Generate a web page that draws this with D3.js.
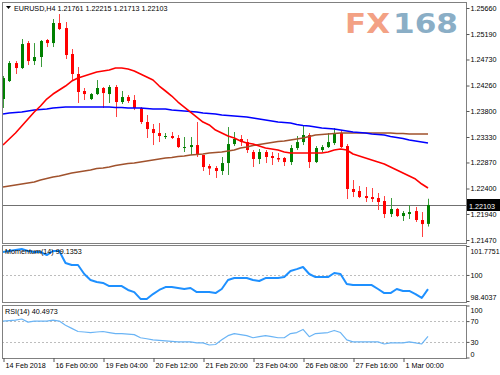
<!DOCTYPE html>
<html lang="en">
<head>
<meta charset="UTF-8">
<title>EURUSD H4</title>
<script src="https://d3js.org/d3.v7.min.js"></script>
<style>
  body { margin: 0; background: #fff; }
  svg { display: block; font-family: "Liberation Sans", Arial, sans-serif; }
</style>
</head>
<body>
<div id="chart"></div>
<script>
// H4 candles, oldest first
const opens  = [1.24016,1.24341,1.24666,1.24576,1.25027,1.24702,1.24775,1.25082,1.25027,1.25389,1.25298,1.24829,1.24468,1.24161,1.24016,1.24106,1.24215,1.24106,1.24233,1.23962,1.24052,1.23998,1.23854,1.23601,1.23474,1.23402,1.23339,1.23348,1.23312,1.23131,1.23149,1.23185,1.23005,1.22806,1.22770,1.22716,1.22860,1.23203,1.23294,1.23239,1.23059,1.22933,1.23059,1.22987,1.22951,1.22951,1.22878,1.23131,1.23239,1.23366,1.22878,1.23095,1.23149,1.23221,1.23402,1.23167,1.22391,1.22355,1.22264,1.22246,1.22228,1.22174,1.21939,1.22030,1.21903,1.21939,1.21993,1.21831,1.21761];
const highs  = [1.24432,1.24702,1.24702,1.25100,1.25064,1.25027,1.25082,1.25100,1.25461,1.25551,1.25407,1.24919,1.24594,1.24215,1.24124,1.24359,1.24233,1.24269,1.24269,1.24161,1.24088,1.24088,1.23872,1.23727,1.23565,1.23583,1.23402,1.23420,1.23366,1.23330,1.23330,1.23601,1.23005,1.22842,1.22806,1.22969,1.23510,1.23420,1.23366,1.23294,1.23095,1.23113,1.23095,1.23059,1.23041,1.22969,1.23185,1.23348,1.23528,1.23402,1.23167,1.23185,1.23402,1.23492,1.23456,1.23203,1.22553,1.22445,1.22427,1.22409,1.22319,1.22264,1.22228,1.22048,1.21993,1.22102,1.22066,1.21975,1.22215];
const lows   = [1.23854,1.24323,1.24468,1.24558,1.24630,1.24630,1.24594,1.24955,1.24955,1.25262,1.24739,1.24359,1.23944,1.23998,1.23998,1.24088,1.23854,1.23944,1.23691,1.23926,1.23944,1.23817,1.23565,1.23312,1.23185,1.23239,1.23294,1.23294,1.23131,1.23059,1.23005,1.22969,1.22716,1.22644,1.22590,1.22644,1.22644,1.23167,1.23167,1.23041,1.22788,1.22842,1.22860,1.22824,1.22878,1.22806,1.22824,1.23095,1.23185,1.22770,1.22860,1.23059,1.23131,1.23185,1.23131,1.22210,1.22246,1.22228,1.22156,1.22156,1.22012,1.21867,1.21885,1.21885,1.21813,1.21849,1.21795,1.21524,1.21713];
const closes = [1.24395,1.24666,1.24576,1.25009,1.24702,1.24775,1.25064,1.25027,1.25389,1.25280,1.24811,1.24468,1.24143,1.24106,1.24106,1.24215,1.24124,1.24233,1.23962,1.24052,1.23980,1.23854,1.23601,1.23474,1.23402,1.23348,1.23348,1.23312,1.23149,1.23149,1.23185,1.23005,1.22788,1.22761,1.22716,1.22860,1.23203,1.23294,1.23239,1.23095,1.22933,1.23059,1.22969,1.22951,1.22924,1.22878,1.23131,1.23239,1.23366,1.22878,1.23131,1.23149,1.23239,1.23402,1.23149,1.22391,1.22337,1.22246,1.22228,1.22210,1.22156,1.21939,1.22030,1.21903,1.21957,1.21975,1.21831,1.21758,1.22103];

// moving averages
const maRed = [1.23185,1.23294,1.23402,1.23528,1.23655,1.23781,1.23890,1.24016,1.24106,1.24179,1.24251,1.24341,1.24395,1.24431,1.24468,1.24504,1.24522,1.24540,1.24576,1.24576,1.24558,1.24522,1.24468,1.24413,1.24359,1.24251,1.24161,1.24070,1.23962,1.23872,1.23781,1.23691,1.23601,1.23547,1.23456,1.23402,1.23348,1.23312,1.23258,1.23221,1.23203,1.23167,1.23131,1.23113,1.23095,1.23059,1.23041,1.23041,1.23041,1.23041,1.23041,1.23041,1.23059,1.23095,1.23113,1.23095,1.23023,1.22987,1.22951,1.22914,1.22878,1.22842,1.22788,1.22734,1.22680,1.22625,1.22571,1.22481,1.22409];
const maBlue = [1.23745,1.23763,1.23772,1.23781,1.23799,1.23817,1.23826,1.23836,1.23854,1.23863,1.23872,1.23872,1.23872,1.23872,1.23872,1.23872,1.23872,1.23872,1.23863,1.23863,1.23854,1.23854,1.23854,1.23845,1.23836,1.23836,1.23836,1.23817,1.23808,1.23799,1.23790,1.23781,1.23763,1.23754,1.23745,1.23727,1.23718,1.23709,1.23700,1.23691,1.23673,1.23655,1.23637,1.23619,1.23601,1.23592,1.23583,1.23556,1.23538,1.23528,1.23510,1.23492,1.23483,1.23474,1.23456,1.23438,1.23420,1.23411,1.23402,1.23384,1.23375,1.23366,1.23339,1.23321,1.23303,1.23276,1.23258,1.23240,1.23221];
const maBrown = [1.22427,1.22445,1.22463,1.22481,1.22499,1.22517,1.22553,1.22580,1.22607,1.22625,1.22653,1.22680,1.22698,1.22716,1.22734,1.22761,1.22770,1.22788,1.22815,1.22833,1.22851,1.22860,1.22878,1.22896,1.22914,1.22933,1.22951,1.22960,1.22978,1.22987,1.23005,1.23014,1.23023,1.23041,1.23050,1.23059,1.23077,1.23095,1.23131,1.23149,1.23176,1.23194,1.23212,1.23230,1.23249,1.23258,1.23276,1.23294,1.23312,1.23339,1.23366,1.23375,1.23384,1.23393,1.23402,1.23402,1.23402,1.23402,1.23402,1.23402,1.23402,1.23402,1.23402,1.23393,1.23393,1.23384,1.23384,1.23384,1.23384];

// indicators
const momentum = [101.41,101.47,101.53,101.59,101.47,101.41,101.41,101.22,101.47,101.47,100.73,100.61,100.61,100.06,99.69,99.57,99.51,99.32,99.32,99.32,99.08,98.95,98.53,98.53,98.83,99.08,99.26,99.26,99.20,99.14,99.20,98.95,98.95,98.95,98.89,99.14,99.69,99.81,99.81,99.81,99.69,99.63,99.81,99.81,99.81,99.87,100.24,100.36,100.49,100.06,99.87,99.87,99.87,100.12,100.06,99.45,99.38,99.38,99.38,99.38,99.14,98.89,98.89,99.14,99.02,99.02,98.83,98.59,99.1353];
const rsi = [70,71,72,74,68,70,70,70,72,70,62,56,50,49,48,49,50,48,46,46,45,44,38,36,34,33,32,31,30,30,30,28,28,24,25,34,42,46,44,42,38,40,42,40,38,38,46,48,54,40,46,47,48,52,48,34,30,30,30,30,30,26,28,28,28,30,28,26,40.4973];

// axis labels
const priceTicks = [1.25660,1.25190,1.24730,1.24260,1.23800,1.23330,1.22870,1.22400,1.21940,1.21470];
const momTicks = [101.7751, 100, 98.4037];
const rsiTicks = [100, 70, 30, 0];
const timeIndex = [0, 8, 16, 24, 32, 40, 48, 56, 64];
const timeLabels = ['14 Feb 2018','16 Feb 00:00','19 Feb 04:00','20 Feb 12:00','21 Feb 20:00','23 Feb 04:00','26 Feb 08:00','27 Feb 16:00','1 Mar 00:00'];

const width = 500, height = 375;
const left = 2, right = 466;
const bullColor = '#008000', bearColor = '#ff0000';
const fontSize = '7.2px';

const svg = d3.select('#chart').append('svg')
    .attr('width', width)
    .attr('height', height);

svg.append('rect').attr('width', width).attr('height', height).attr('fill', '#fff');

// scales
const x = d3.scaleLinear().domain([0, opens.length - 1]).range([3, 428]);
const yPrice = d3.scaleLinear().domain([1.2147, 1.2566]).range([240, 8]);
const yMom = d3.scaleLinear().domain([98.4037, 101.7751]).range([301, 246]);
const yRsi = d3.scaleLinear().domain([0, 100]).range([357.5, 305.5]);

// logo
svg.append('text').attr('x', 345).attr('y', 33)
    .attr('textLength', 45).attr('lengthAdjust', 'spacingAndGlyphs')
    .style('font-family', '"DejaVu Sans", sans-serif').style('font-weight', 'bold')
    .style('font-size', '27px').attr('fill', '#f3a184').text('FX');
svg.append('text').attr('x', 393).attr('y', 33)
    .attr('textLength', 65).attr('lengthAdjust', 'spacingAndGlyphs')
    .style('font-family', '"DejaVu Sans", sans-serif').style('font-weight', 'bold')
    .style('font-size', '27px').attr('fill', '#8aaec6').text('168');

// dotted level lines
const dotted = svg.append('g').attr('stroke', '#bdbdbd').attr('stroke-dasharray', '2,2');
dotted.append('line').attr('x1', left).attr('x2', right).attr('y1', Math.round(yMom(100)) + 0.5).attr('y2', Math.round(yMom(100)) + 0.5);
[70, 30].forEach(v => {
    dotted.append('line').attr('x1', left).attr('x2', right).attr('y1', Math.round(yRsi(v)) + 0.5).attr('y2', Math.round(yRsi(v)) + 0.5);
});

// current price line
const lastY = Math.round(yPrice(closes[closes.length - 1])) + 0.5;
svg.append('line').attr('x1', left).attr('x2', right).attr('y1', lastY).attr('y2', lastY)
    .attr('stroke', '#707070');

// candles
const idx = d3.range(opens.length);
const candles = svg.append('g');
candles.selectAll('line').data(idx).enter().append('line')
    .attr('x1', i => Math.round(x(i)) + 0.5)
    .attr('x2', i => Math.round(x(i)) + 0.5)
    .attr('y1', i => yPrice(highs[i]))
    .attr('y2', i => yPrice(lows[i]))
    .attr('stroke', i => closes[i] >= opens[i] ? '#3a9a3a' : '#ff4040');
candles.selectAll('rect').data(idx).enter().append('rect')
    .attr('x', i => Math.round(x(i)) - 1)
    .attr('width', 3)
    .attr('y', i => yPrice(Math.max(opens[i], closes[i])))
    .attr('height', i => Math.max(1, Math.abs(yPrice(opens[i]) - yPrice(closes[i]))))
    .attr('fill', i => closes[i] >= opens[i] ? bullColor : bearColor);

// moving averages
function drawLine(values, yScale, color, w) {
    const line = d3.line().x((d, i) => x(i)).y(d => yScale(d));
    svg.append('path').datum(values)
        .attr('d', line)
        .attr('fill', 'none')
        .attr('stroke', color)
        .attr('stroke-width', w)
        .attr('stroke-linejoin', 'round');
}
drawLine(maBrown, yPrice, '#a0522d', 1.6);
drawLine(maBlue, yPrice, '#0000ff', 1.6);
drawLine(maRed, yPrice, '#ff0000', 1.6);

// indicator lines
drawLine(momentum, yMom, '#1e90ff', 2);
drawLine(rsi, yRsi, '#6ab4f5', 1.2);

// panel borders
const panels = [[2, 243], [245, 302], [305, 358]];
panels.forEach(p => {
    svg.append('rect')
        .attr('x', left + 0.5).attr('y', p[0] + 0.5)
        .attr('width', right - left).attr('height', p[1] - p[0])
        .attr('fill', 'none').attr('stroke', '#808080');
});

// right axes
function rightAxis(scale, ticks, fmt, shifts) {
    const g = svg.append('g')
        .attr('transform', `translate(${right + 0.5},0)`)
        .call(d3.axisRight(scale).tickValues(ticks).tickFormat(fmt).tickSize(3).tickPadding(1));
    g.select('.domain').remove();
    g.selectAll('line').attr('stroke', '#555');
    g.selectAll('text').style('font-size', fontSize).attr('fill', '#000')
        .attr('transform', (d, i) => `translate(0,${shifts ? shifts[i] : 0})`);
    return g;
}
rightAxis(yPrice, priceTicks, d3.format('.5f'));
const momAxis = rightAxis(yMom, momTicks, d => d === 100 ? '100' : d3.format('.4f')(d), [5, 0, -4]);
momAxis.selectAll('text').filter(d => d > 101).attr('textLength', 29).attr('lengthAdjust', 'spacingAndGlyphs');
rightAxis(yRsi, rsiTicks, d3.format('d'), [5, 0, 0, -3]);

// last price tag
svg.append('rect').attr('x', right + 1).attr('y', lastY - 6.5).attr('width', 33).attr('height', 12).attr('fill', '#000');
svg.append('text').attr('x', right + 3).attr('y', lastY + 3)
    .style('font-size', fontSize).attr('fill', '#fff')
    .text(d3.format('.5f')(closes[closes.length - 1]));

// time axis
const xAxis = svg.append('g')
    .attr('transform', 'translate(0,358)')
    .call(d3.axisBottom(x).tickValues(timeIndex)
        .tickFormat((d, i) => timeLabels[i]).tickSize(4).tickPadding(1));
xAxis.select('.domain').remove();
xAxis.selectAll('line').attr('stroke', '#555')
    .attr('transform', 'translate(0.5,0)');
xAxis.selectAll('text').style('font-size', fontSize).attr('fill', '#000')
    .attr('text-anchor', 'start').attr('dx', 2);

// header and indicator labels
svg.append('path').attr('d', 'M6,6 L11,6 L8.5,9 Z').attr('fill', '#000');
svg.append('text').attr('x', 14).attr('y', 11).style('font-size', fontSize).attr('fill', '#000')
    .text(`EURUSD,H4  ${opens[68].toFixed(5)} ${highs[68].toFixed(5)} ${lows[68].toFixed(5)} ${closes[68].toFixed(5)}`);
svg.append('text').attr('x', 5).attr('y', 254).style('font-size', fontSize).attr('fill', '#000')
    .text(`Momentum(14) ${momentum[68].toFixed(4)}`);
svg.append('text').attr('x', 5).attr('y', 314).style('font-size', fontSize).attr('fill', '#000')
    .text(`RSI(14) ${rsi[68].toFixed(4)}`);
</script>
</body>
</html>
